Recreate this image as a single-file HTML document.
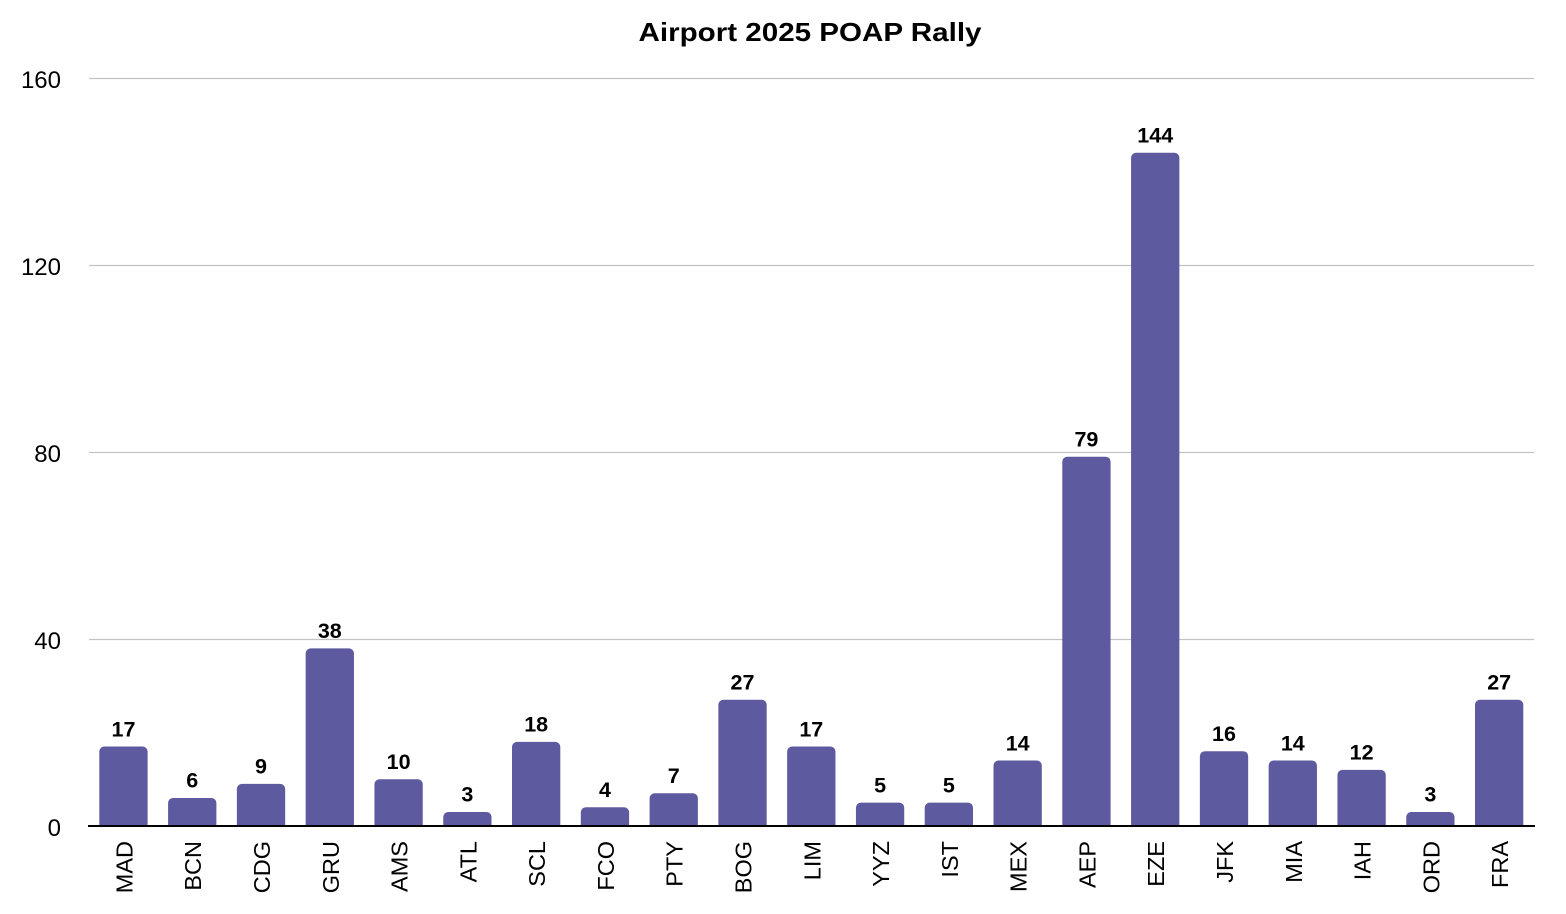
<!DOCTYPE html>
<html>
<head>
<meta charset="utf-8">
<style>
  html,body{margin:0;padding:0;background:#fff;}
  svg{display:block;font-family:"Liberation Sans",Arial,Helvetica,sans-serif;}
</style>
</head>
<body>
<svg width="1566" height="914" viewBox="0 0 1566 914" xmlns="http://www.w3.org/2000/svg">
  <rect width="1566" height="914" fill="#fff"/>
  <text x="810" y="41" text-anchor="middle" font-size="26" font-weight="bold" fill="#000" textLength="343" lengthAdjust="spacingAndGlyphs">Airport 2025 POAP Rally</text>

  <!-- gridlines -->
  <g stroke="#c2c2c2" stroke-width="1.2">
    <line x1="89" y1="78.5" x2="1534" y2="78.5"/>
    <line x1="89" y1="265.5" x2="1534" y2="265.5"/>
    <line x1="89" y1="452.5" x2="1534" y2="452.5"/>
    <line x1="89" y1="639.5" x2="1534" y2="639.5"/>
  </g>

  <!-- y tick labels -->
  <g font-size="24" fill="#000" text-anchor="end">
    <text x="61" y="88">160</text>
    <text x="61" y="275">120</text>
    <text x="61" y="462">80</text>
    <text x="61" y="649">40</text>
    <text x="61" y="836">0</text>
  </g>

  <defs>
    <clipPath id="c"><rect x="0" y="0" width="1566" height="826"/></clipPath>
  </defs>

  <!-- bars -->
  <g fill="#5e5a9f" clip-path="url(#c)">
    <rect x="99.3" y="746.5" width="48.3" height="90" rx="5"/>
    <rect x="168.09" y="797.95" width="48.3" height="40" rx="5"/>
    <rect x="236.87" y="783.9" width="48.3" height="50" rx="5"/>
    <rect x="305.66" y="648.35" width="48.3" height="190" rx="5"/>
    <rect x="374.44" y="779.25" width="48.3" height="60" rx="5"/>
    <rect x="443.23" y="811.98" width="48.3" height="30" rx="5"/>
    <rect x="512.01" y="741.85" width="48.3" height="90" rx="5"/>
    <rect x="580.8" y="807.3" width="48.3" height="30" rx="5"/>
    <rect x="649.58" y="793.3" width="48.3" height="40" rx="5"/>
    <rect x="718.37" y="699.8" width="48.3" height="140" rx="5"/>
    <rect x="787.15" y="746.5" width="48.3" height="90" rx="5"/>
    <rect x="855.94" y="802.6" width="48.3" height="30" rx="5"/>
    <rect x="924.72" y="802.6" width="48.3" height="30" rx="5"/>
    <rect x="993.51" y="760.55" width="48.3" height="70" rx="5"/>
    <rect x="1062.29" y="456.7" width="48.3" height="380" rx="5"/>
    <rect x="1131.08" y="152.8" width="48.3" height="680" rx="5"/>
    <rect x="1199.86" y="751.2" width="48.3" height="80" rx="5"/>
    <rect x="1268.65" y="760.55" width="48.3" height="70" rx="5"/>
    <rect x="1337.43" y="769.9" width="48.3" height="60" rx="5"/>
    <rect x="1406.22" y="811.98" width="48.3" height="30" rx="5"/>
    <rect x="1475.0" y="699.8" width="48.3" height="140" rx="5"/>
  </g>

  <!-- axis -->
  <line x1="88" y1="826" x2="1535" y2="826" stroke="#000" stroke-width="2"/>

  <!-- value labels -->
  <g font-size="21.5" font-weight="bold" fill="#000" text-anchor="middle">
    <text x="123.45" y="736.5">17</text>
    <text x="192.24" y="787.5">6</text>
    <text x="261.02" y="773.5">9</text>
    <text x="329.81" y="638">38</text>
    <text x="398.59" y="769">10</text>
    <text x="467.38" y="801.5">3</text>
    <text x="536.16" y="731.5">18</text>
    <text x="604.95" y="797">4</text>
    <text x="673.73" y="783">7</text>
    <text x="742.52" y="689.5">27</text>
    <text x="811.30" y="736.5">17</text>
    <text x="880.09" y="792.5">5</text>
    <text x="948.87" y="792.5">5</text>
    <text x="1017.66" y="750.5">14</text>
    <text x="1086.44" y="446.5">79</text>
    <text x="1155.23" y="142.5">144</text>
    <text x="1224.01" y="741">16</text>
    <text x="1292.80" y="750.5">14</text>
    <text x="1361.58" y="759.5">12</text>
    <text x="1430.37" y="801.5">3</text>
    <text x="1499.15" y="689.5">27</text>
  </g>

  <!-- x labels -->
  <g font-size="23.5" fill="#000" text-anchor="end">
    <text transform="translate(132.45,841) rotate(-90)">MAD</text>
    <text transform="translate(201.24,841) rotate(-90)">BCN</text>
    <text transform="translate(270.02,841) rotate(-90)">CDG</text>
    <text transform="translate(338.81,841) rotate(-90)">GRU</text>
    <text transform="translate(407.59,841) rotate(-90)">AMS</text>
    <text transform="translate(476.38,841) rotate(-90)">ATL</text>
    <text transform="translate(545.16,841) rotate(-90)">SCL</text>
    <text transform="translate(613.95,841) rotate(-90)">FCO</text>
    <text transform="translate(682.73,841) rotate(-90)">PTY</text>
    <text transform="translate(751.52,841) rotate(-90)">BOG</text>
    <text transform="translate(820.30,841) rotate(-90)">LIM</text>
    <text transform="translate(889.09,841) rotate(-90)">YYZ</text>
    <text transform="translate(957.87,841) rotate(-90)">IST</text>
    <text transform="translate(1026.66,841) rotate(-90)">MEX</text>
    <text transform="translate(1095.44,841) rotate(-90)">AEP</text>
    <text transform="translate(1164.23,841) rotate(-90)">EZE</text>
    <text transform="translate(1233.01,841) rotate(-90)">JFK</text>
    <text transform="translate(1301.80,841) rotate(-90)">MIA</text>
    <text transform="translate(1370.58,841) rotate(-90)">IAH</text>
    <text transform="translate(1439.37,841) rotate(-90)">ORD</text>
    <text transform="translate(1508.15,841) rotate(-90)">FRA</text>
  </g>
</svg>
</body>
</html>
